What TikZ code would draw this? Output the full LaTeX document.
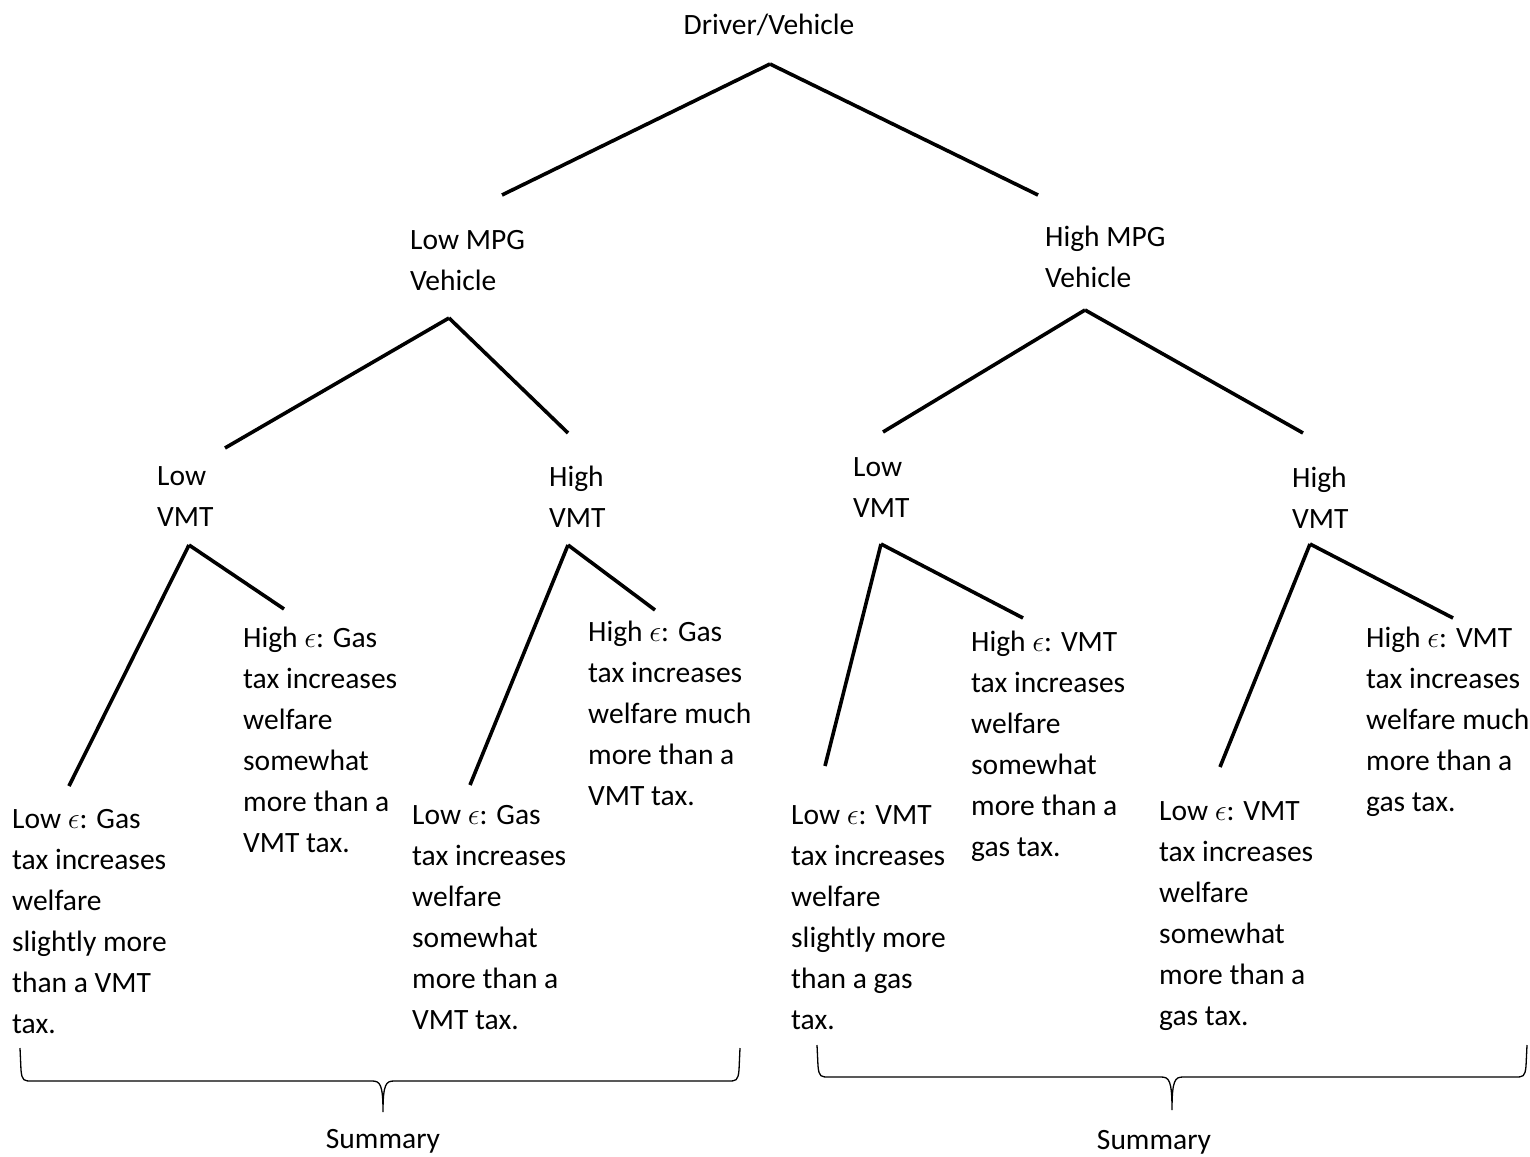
\documentclass[tikz,border=0pt]{standalone}
\usepackage{graphicx}
\usepackage{fontspec}
\setmainfont{Carlito}
\usetikzlibrary{positioning}
\newcommand{\treefont}{\fontsize{29.5}{41}\selectfont}
\newcommand{\eps}{\scalebox{1.2}{$\epsilon$}}
\tikzset{
  every picture/.style={x=1pt, y=-1pt},
  txt/.style={anchor=north west, inner sep=0pt, align=left, font=\treefont, execute at begin node=\strut},
  txtc/.style={txt, anchor=north, align=center},
  branch/.style={draw=black, line width=3.6pt},
  bracket/.style={draw=black, line width=1.3pt},
}

\begin{document}
\begin{tikzpicture}
  \useasboundingbox (0,0) rectangle (1530,1156);
  % labels
  \node[txtc] (root) at (769,6) {Driver/Vehicle};
  \node[txt] (lowmpg) at (410,230) {Low MPG\\Vehicle};
  \node[txt] (highmpg) at (1045,226) {High MPG\\Vehicle};
  \node[txt] (lowvmtA) at (157,466) {Low\\VMT};
  \node[txt] (highvmtA) at (549,466) {High\\VMT};
  \node[txt] (lowvmtB) at (853,457) {Low\\VMT};
  \node[txt] (highvmtB) at (1292,467) {High\\VMT};
  \node[txt] (loweA) at (12,809) {Low \eps: Gas\\tax increases\\welfare\\slightly more\\than a VMT\\tax.};
  \node[txt] (higheA) at (243,627) {High \eps: Gas\\tax increases\\welfare\\somewhat\\more than a\\VMT tax.};
  \node[txt] (loweB) at (412,805) {Low \eps: Gas\\tax increases\\welfare\\somewhat\\more than a\\VMT tax.};
  \node[txt] (higheB) at (588,621) {High \eps: Gas\\tax increases\\welfare much\\more than a\\VMT tax.};
  \node[txt] (loweC) at (791,805) {Low \eps: VMT\\tax increases\\welfare\\slightly more\\than a gas\\tax.};
  \node[txt] (higheC) at (971,631) {High \eps: VMT\\tax increases\\welfare\\somewhat\\more than a\\gas tax.};
  \node[txt] (loweD) at (1159,801) {Low \eps: VMT\\tax increases\\welfare\\somewhat\\more than a\\gas tax.};
  \node[txt] (higheD) at (1366,627) {High \eps: VMT\\tax increases\\welfare much\\more than a\\gas tax.};
  \node[txtc] (sumgas) at (383,1120) {Summary};
  \node[txtc] (sumvmt) at (1154,1121) {Summary};
  % branch points
  \coordinate (root-fork) at (770,64);
  \coordinate (lowmpg-end) at (502,195);
  \coordinate (highmpg-end) at (1038,195);
  \coordinate (lowmpg-fork) at (449,318);
  \coordinate (highmpg-fork) at (1085,310);
  \coordinate (lowvmtA-end) at (225,448);
  \coordinate (highvmtA-end) at (568,433);
  \coordinate (lowvmtB-end) at (883,432);
  \coordinate (highvmtB-end) at (1303,433);
  \coordinate (lowvmtA-fork) at (189,545);
  \coordinate (highvmtA-fork) at (568,545);
  \coordinate (lowvmtB-fork) at (881,544);
  \coordinate (highvmtB-fork) at (1310,544);
  \coordinate (loweA-end) at (69,786);
  \coordinate (higheA-end) at (284,609);
  \coordinate (loweB-end) at (470,785);
  \coordinate (higheB-end) at (655,610);
  \coordinate (loweC-end) at (825,766);
  \coordinate (higheC-end) at (1023,618);
  \coordinate (loweD-end) at (1220,767);
  \coordinate (higheD-end) at (1453,618);
  \foreach \f/\e in {root/lowmpg, root/highmpg, lowmpg/lowvmtA, lowmpg/highvmtA,
      highmpg/lowvmtB, highmpg/highvmtB, lowvmtA/loweA, lowvmtA/higheA,
      highvmtA/loweB, highvmtA/higheB, lowvmtB/loweC, lowvmtB/higheC,
      highvmtB/loweD, highvmtB/higheD}
    \draw[branch] (\f-fork) -- (\e-end);
  % summary braces
  \draw[bracket] (20,1048) -- (21,1070) .. controls (22,1081) and (24,1081) .. (32,1081) -- (372,1081)
    .. controls (380,1081) and (383,1084) .. (383,1112)
    .. controls (383,1084) and (386,1081) .. (394,1081) -- (728,1081)
    .. controls (736,1081) and (738,1081) .. (739,1070) -- (740,1048);
  \draw[bracket] (817,1045) -- (818,1066) .. controls (819,1077) and (821,1077) .. (829,1077) -- (1161,1077)
    .. controls (1169,1077) and (1172,1080) .. (1172,1110)
    .. controls (1172,1080) and (1175,1077) .. (1183,1077) -- (1515,1077)
    .. controls (1523,1077) and (1525,1077) .. (1526,1066) -- (1527,1045);
\end{tikzpicture}
\end{document}
